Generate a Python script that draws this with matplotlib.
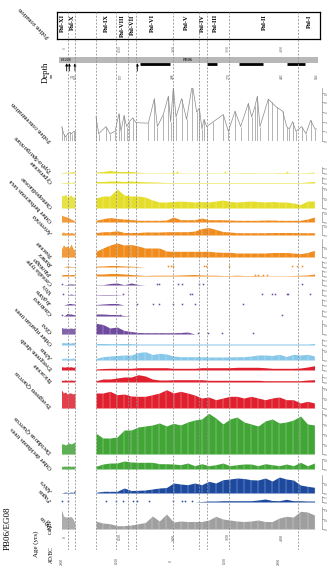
import matplotlib
matplotlib.use('Agg')
import matplotlib.pyplot as plt
import numpy as np
from matplotlib.patches import Rectangle

plt.rcParams['font.family'] = ['Liberation Serif', 'DejaVu Serif']
plt.rcParams['mathtext.fontset'] = 'custom'
plt.rcParams['mathtext.rm'] = 'Liberation Serif'
plt.rcParams['mathtext.it'] = 'Liberation Serif:italic'

# ---------------- data ----------------
ages_eg08 = [-65, -30, 5, 40, 75, 110, 150, 184]
ages_pb06 = [571, 700, 830, 960, 1090, 1220, 1350, 1480, 1610, 1740, 1870, 2000,
             2130, 2260, 2390, 2520, 2650, 2780, 2910, 3040, 3170, 3300, 3430, 3560,
             3690, 3820, 3950, 4080, 4210, 4340, 4470, 4600]

conc_ages = [-61, -25, 12, 49, 86, 123, 160, 184,
             571, 621, 756, 829, 922, 995, 1032, 1088, 1137, 1186, 1247, 1309, 1536,
             1647, 1702, 1812, 1905, 1948, 1997, 2046, 2150, 2242, 2347, 2427, 2476,
             2525, 2562, 2611, 2734, 2918, 3011, 3134, 3238, 3379, 3441, 3502, 3545,
             3594, 3748, 3810, 3902, 4012, 4086, 4135, 4197, 4258, 4363, 4442, 4528,
             4608, 4640]
conc_vals = [3.0, 1.5, 0.8, 1.5, 1.8, 1.5, 2.0, 2.0,
             5.0, 1.5, 3.0, 1.5, 2.0, 5.7, 2.0, 5.3, 3.0, 4.0, 4.8, 3.8, 3.7,
             8.8, 3.0, 5.5, 9.3, 4.0, 11.2, 5.0, 8.8, 4.5, 11.7, 6.0, 6.8,
             2.5, 4.5, 3.0, 4.0, 5.5, 2.0, 6.2, 3.0, 7.8, 5.0, 7.2, 9.3,
             3.0, 8.7, 8.0, 7.0, 6.2, 3.0, 2.5, 4.0, 2.0, 3.0, 1.5, 4.3,
             2.5, 2.5]

typha = [0.5, 0.5, 0.8, 0.5, 0.8, 1, 1.5, 0.8,
         1, 1.5, 2.5, 1.5, 1.5, 1.5, 0.8, 0.3, 0.3, 0.3, 0.3, 0.5, 0.3, 0.2, 0.3, 0.3,
         0.3, 0.3, 0.2, 0.3, 0.3, 0.5, 0.5, 0.3, 0.3, 0.3, 0.5, 0.5, 0.3, 0.3, 0.5, 0.8]
cyperaceae = [0.5, 0.5, 0.5, 0.8, 0.5, 0.5, 1, 0.5,
              1.5, 1.5, 2, 2, 1.5, 2, 1.5, 1.2, 1, 0.8, 0.5, 0.5, 0.5, 0.5, 0.5, 0.5,
              0.5, 0.5, 0.5, 0.5, 0.5, 0.5, 0.5, 0.5, 0.5, 0.5, 0.5, 0.5, 0.5, 0.5, 1, 1.5]
chenopodiaceae = [13, 12, 14, 11, 12, 13, 10, 13,
                  10, 12, 12, 19, 13, 12, 12, 11, 8, 6, 6, 6.5, 7, 6.5, 6, 6.5,
                  6, 7, 8, 6.5, 6, 6.5, 7, 6.5, 6, 6.5, 6, 6, 5, 3.5, 7, 7]
other_herbs = [7, 6, 5.5, 5, 4, 3, 2, 1,
               1.7, 3.3, 4.5, 3.5, 3, 2.5, 1.7, 1.7, 1.7, 1.7, 2, 5, 2.3, 2.3, 2.3, 4,
               2.3, 2.3, 2.3, 2, 1.7, 1.7, 1.7, 1.7, 2, 2, 1.7, 1.7, 1.7, 1.7, 3, 5]
artemisia = [2, 3, 2, 2.5, 2, 2.5, 2, 1.5,
             2.3, 3.3, 3.3, 4.3, 2.5, 2.5, 2.5, 3, 3, 3, 3.3, 3.3, 3.3, 3.3, 4, 6.5,
             7.5, 5.5, 3.5, 3, 2.3, 2.3, 2.3, 2.3, 2.3, 2.5, 2.5, 2.5, 2.5, 2.3, 2.3, 2.3]
poaceae = [8, 12, 10, 11, 9, 13, 8, 7,
           5.7, 9, 12, 14, 12, 12.5, 11, 9, 9, 9, 6, 5.7, 5.7, 5.7, 5.7, 5.7,
           5.7, 5, 4.7, 4.7, 4, 4, 4, 4, 4, 4.5, 4.5, 4.5, 4, 3.3, 4.5, 6.7]
rumex = [0, 0, 0.5, 1, 0.8, 0.5, 0.5, 0.3,
         1, 1, 1.5, 1.5, 1, 0.8, 0.5, 0, 0, 0, 0, 0, 0, 0, 0, 0,
         0, 0, 0, 0, 0, 0, 0, 0, 0, 0, 0, 0, 0, 0, 0, 0]
plantago = [1, 1.5, 1.5, 1.5, 1, 1.5, 1.5, 1,
            2, 2, 2.5, 2.5, 2, 1.5, 1, 0.5, 0.8, 0.8, 0.8, 0.8, 1, 1.3, 1.5, 1,
            0.8, 0.8, 0.5, 0.5, 0.8, 0.5, 0.5, 0.5, 0.3, 0.3, 0.3, 0.3, 0.5, 0.8, 1, 2]
cerealia = [0, 0, 0.3, 0.5, 1, 1, 1, 0.5,
            0.3, 0.3, 1.5, 2, 0.3, 2, 0.5, 0, 0, 0, 0, 0, 0, 0, 0, 0,
            0, 0, 0, 0, 0, 0, 0, 0, 0, 0, 0, 0, 0, 0, 0, 0]
vitis = [0, 0, 0, 0, 0.5, 1, 0.5, 0,
         0.3, 0.5, 0.5, 0.3, 0, 0, 0, 0, 0, 0, 0, 0, 0, 0, 0, 0,
         0, 0, 0, 0, 0, 0, 0, 0, 0, 0, 0, 0, 0, 0, 0, 0]
juglans = [0, 0, 0.5, 1, 1.5, 1.5, 1, 1,
           0.5, 1, 1.5, 1.5, 0, 0, 0, 0, 0, 0, 0, 0, 0, 0, 0, 0,
           0, 0, 0, 0, 0, 0, 0, 0, 0, 0, 0, 0, 0, 0, 0, 0]
castanea = [0, 0, 1, 2.5, 2, 2, 1.5, 1,
            2, 2, 1.5, 1.5, 0.5, 0, 0, 0, 0, 0, 0, 0, 0, 0, 0, 0,
            0, 0, 0, 0, 0, 0, 0, 0, 0, 0, 0, 0, 0, 0, 0, 0]
olea = [6.7, 5.7, 6, 5.5, 5.7, 6, 5.5, 6.3,
        10.7, 9.5, 6, 7, 3.5, 2.5, 1.5, 1.3, 1.3, 1.3, 1.3, 1.3, 1.5, 2, 0, 0,
        0, 0, 0, 0, 0, 0, 0, 0, 0, 0, 0, 0, 0, 0, 0, 0]
riparian = [2, 2.5, 2, 2.5, 2, 2, 2.5, 2,
            1.5, 1.5, 1.3, 1.3, 1.5, 1.3, 1, 1, 1, 1, 1, 1, 1, 1, 1, 1,
            1, 1, 1, 1, 1, 1, 1, 1, 1, 1, 1, 1, 1, 1, 1, 1.5]
alnus = [1.5, 1.7, 2, 1.7, 1.5, 1.7, 2, 1.7,
         1.7, 3.3, 4, 4.5, 5, 5, 7.5, 8.3, 5.5, 6.7, 6, 4, 3.3, 3.3, 3.3, 3.3,
         3, 3, 3, 3, 3.3, 3.3, 4, 5, 5, 4.5, 5.7, 3.5, 5.7, 5, 5.7, 4]
ev_shrub = [3.3, 3, 3, 3.3, 3, 3.3, 2.7, 3,
            1, 1.5, 1.7, 1.7, 1.7, 1.7, 2.3, 2.3, 2.3, 2.3, 2.3, 1.7, 1.7, 1.7, 1.7, 2.3,
            2.3, 2.3, 2.3, 2.3, 2.7, 2.7, 2.7, 2.7, 2.3, 1.7, 1.7, 1.7, 1.7, 2, 3, 4.3]
ericaceae = [1.7, 1.7, 2, 1.7, 1.7, 2, 1.7, 1.7,
             1.3, 3, 3, 4, 5, 5, 7.3, 6, 3, 2, 2, 2.3, 2.3, 2.3, 2.3, 2.3,
             1.7, 1.7, 1.7, 1.7, 1.7, 1.7, 1.7, 1.7, 1.3, 1.3, 1.3, 1.3, 1.3, 1.3, 2, 2.3]
ev_quercus = [18, 15, 16, 14, 15, 15, 14, 15,
              15, 15, 16.7, 13.3, 14, 12, 11.7, 11.7, 13.3, 15, 18.3, 15, 16.7, 15, 13, 10,
              11, 8.3, 10, 11.7, 11.7, 10, 11.7, 10, 8.3, 10, 11, 8.3, 8.3, 5, 6.7, 5]
dec_quercus = [10, 10, 9, 10, 11, 10, 11, 12,
               20.7, 16, 16, 17, 24, 24, 27, 28, 29, 31, 28, 30.7, 29, 32, 34, 35,
               40.7, 36, 30, 35, 37, 32, 30, 28, 33, 35, 31, 32, 34, 38, 30, 29]
other_dec = [2.7, 2.7, 3, 2.7, 3, 2.7, 3, 2.3,
             2.7, 5, 6, 6, 8, 7, 6.7, 6.7, 6.7, 5.3, 5.3, 5, 4.3, 6, 3.3, 5.3,
             3.3, 4.3, 6, 3.3, 4.3, 5, 5, 3.3, 5.3, 4.3, 3.3, 5, 3.3, 6.7, 3.3, 6]
abies = [0, 0.5, 1, 0.5, 0.5, 1, 0.5, 3,
         0.7, 1.7, 1.7, 1.7, 5, 2.5, 2.7, 3, 4, 5, 5.5, 10, 9, 8.3, 10, 8.3,
         11.7, 10, 13.3, 14, 15, 14.5, 13.3, 13, 15, 12, 16, 14, 13, 8, 6.7, 5.7]
fagus = [0, 0, 0, 0, 0, 0, 0, 0,
         0, 0, 0, 0, 0, 0, 0, 0, 0, 0, 0, 0, 0, 0, 0, 0.5,
         1, 1, 1.3, 1.3, 1.3, 1.3, 1.3, 2, 3, 1.5, 1.3, 2.7, 1.3, 1.3, 1, 1]
pinus = [19, 13, 12, 12, 12, 12.5, 10, 5,
         7.7, 6, 5.3, 3.3, 3.3, 4, 5.3, 6.5, 13, 8, 15, 7, 8, 7.5, 7.5, 7.5,
         9, 12.7, 10, 9, 8, 7.5, 8, 9, 7.5, 7.5, 11, 12.7, 12, 17.7, 17, 14]

# presence-only finds (ages, cal BP)
typha_dots = [1996, 2058, 2949, 4085]
rumex_dots = [1904, 1948, 1996, 2562, 2599, 3029, 4179, 4271, 4363]
plantago_dots = [3502, 3563, 3655, 3717]
cerealia_dots = [-61, 1690, 1739, 2089, 2151, 2476, 2538, 4363]
vitis_dots = [-37, 1075, 2304, 2335, 3625, 3810, 3871, 4085, 4116, 4516]
juglans_dots = [1321, 1628, 1739, 1996, 2151, 2396, 3287]
castanea_dots = [-61, 1014, 3994]
olea_dots = [2458, 2642, 2888, 3471]
fagus_dots = [-61, 61, 756, 940, 1075, 1259, 1321, 1554, 1996, 2151, 2212, 2335]

zone_names = ["Pal-XI", "Pal-X", "Pal-IX", "Pal-VIII", "Pal-VII", "Pal-VI",
              "Pal-V", "Pal-IV", "Pal-III", "Pal-II", "Pal-I"]
zone_label_ages = [-55, 129, 756, 1051, 1235, 1604, 2230, 2525, 2765, 3668, 4498]
zone_bounds = [55, 184, 571, 940, 1161, 1309, 1991, 2470, 2618, 3023, 4295]

calbp_ticks = [0, 1000, 2000, 3000, 4000]
adbc_ticks = [-50, 950, 1950, 2950, 3950]
adbc_labels = ["2000", "1000", "0", "1000", "2000"]

dated_intervals = [(1382, 1935), (2618, 2802), (3207, 3650), (4092, 4424)]
arrow_ages = [31, 79, 184, 1333]
depth_ages = [142, 203, 1032, 1991, 3023, 4000, 4645]
depth_labels = ["74", "100", "137", "208", "270", "482", "546"]

# ---------------- layout ----------------
W, H = 336, 569
fig = plt.figure(figsize=(W / 100, H / 100), dpi=100)


def rect(x0, y0, x1, y1):
    return [x0 / W, 1 - y1 / H, (x1 - x0) / W, (y1 - y0) / H]


XL = (-74, 4645)
PX0, PX1 = 61, 317
ages = np.array(ages_eg08 + ages_pb06, dtype=float)
n_eg = len(ages_eg08)
LABEL_FS = 4.7

YEL, ORA, PUR, LBL, RED, GRN, BLU, GRY = ('#e4de2a', '#f08c1e', '#6e4a9e', '#86c7ea',
                                          '#e0202e', '#41a636', '#1d4a9e', '#9f9f9f')

taxa = [
    (r"$\it{Typha}$-$\it{Sparganium}$", typha, YEL, 173, 6, typha_dots),
    ("Cyperaceae", cyperaceae, YEL, 183, 6, None),
    ("Chenopodiaceae", chenopodiaceae, YEL, 208, 22, None),
    ("Other herbaceous taxa", other_herbs, ORA, 222, 10, None),
    (r"$\it{Artemisia}$", artemisia, ORA, 235, 10, None),
    ("Poaceae", poaceae, ORA, 257, 18, None),
    (r"$\it{Rumex}$", rumex, ORA, 267, 6, rumex_dots),
    (r"$\it{Plantago}$", plantago, ORA, 276, 6, plantago_dots),
    ("Cerealia type", cerealia, PUR, 285, 6, cerealia_dots),
    (r"$\it{Vitis}$", vitis, PUR, 295, 6, vitis_dots),
    (r"$\it{Juglans}$", juglans, PUR, 305, 6, juglans_dots),
    (r"$\it{Castanea}$", castanea, PUR, 316, 6, castanea_dots),
    (r"$\it{Olea}$", olea, PUR, 334, 14, olea_dots),
    ("Other riparian trees", riparian, LBL, 345, 6, None),
    (r"$\it{Alnus}$", alnus, LBL, 360, 12, None),
    ("Evergreen shrub", ev_shrub, RED, 370, 6, None),
    ("Ericaceae", ericaceae, RED, 382, 8, None),
    (r"Evergreen $\it{Quercus}$", ev_quercus, RED, 408, 22, None),
    (r"Deciduous $\it{Quercus}$", dec_quercus, GRN, 454, 44, None),
    ("Other deciduous trees", other_dec, GRN, 469, 10, None),
    (r"$\it{Abies}$", abies, BLU, 493, 18, None),
    (r"$\it{Fagus}$", fagus, BLU, 502, 6, fagus_dots),
    (r"$\it{Pinus}$", pinus, GRY, 529, 22, None),
]


def style_right(ax, ticks):
    for s in ('top', 'left', 'bottom'):
        ax.spines[s].set_visible(False)
    ax.spines['right'].set_position(('outward', 3.5))
    ax.spines['right'].set_linewidth(0.4)
    ax.spines['right'].set_color('#777777')
    ax.set_xticks([])
    ax.yaxis.tick_right()
    ax.set_yticks(ticks)
    ax.set_yticklabels([str(t) for t in ticks])
    ax.tick_params(axis='y', length=1.5, width=0.4, pad=0.8, labelsize=2.4,
                   colors='#666666', labelrotation=90)
    for lab in ax.get_yticklabels():
        lab.set_va('center')


# zonation box
axz = fig.add_axes(rect(57, 12, 320, 39))
axz.set_xlim(-147.5, 4700.5)
axz.set_ylim(0, 1)
axz.set_xticks([])
axz.set_yticks([])
for s in axz.spines.values():
    s.set_linewidth(0.9)
for name, a in zip(zone_names, zone_label_ages):
    axz.text(a, 0.92, name, rotation=90, ha='center', va='top', fontsize=4.6,
             fontweight='bold')
fig.text(49 / W, 1 - 37 / H, "Pollen zonation", rotation=135, rotation_mode='anchor',
         ha='left', va='center', fontsize=LABEL_FS)

# header: age ticks, core bar, dated intervals, depth
axh = fig.add_axes(rect(PX0, 40, PX1, 86))
axh.set_xlim(*XL)
axh.set_ylim(86, 40)
axh.axis('off')
for t in calbp_ticks:
    axh.text(t, 48, str(t), rotation=90, ha='center', va='center', fontsize=2.6,
             color='#666666')
axh.add_patch(Rectangle((-110, 57), 4775, 5.5, facecolor='#b8b8b8', edgecolor='none',
                        clip_on=False))
axh.text(18, 59.8, "EG08", ha='center', va='center', fontsize=3.2, fontweight='bold',
         color='#333333')
axh.text(2267, 59.8, "PB06", ha='center', va='center', fontsize=3.2, fontweight='bold',
         color='#333333')
for a0, a1 in dated_intervals:
    axh.plot([a0, a1], [63.8, 63.8], color='black', lw=2.0, solid_capstyle='butt')
for a in arrow_ages:
    axh.annotate('', xy=(a, 63.2), xytext=(a, 71),
                 arrowprops=dict(arrowstyle='-|>', lw=0.6, color='black',
                                 mutation_scale=3.5, shrinkA=0, shrinkB=0))
for a, lab in zip(depth_ages, depth_labels):
    axh.text(a, 76.5, lab, rotation=90, ha='center', va='center', fontsize=2.6,
             color='#333333')
fig.text(46 / W, 1 - 72 / H, "Depth", rotation=90, ha='center', va='center', fontsize=6.2)
fig.text(51.5 / W, 1 - 75 / H, "cm", rotation=90, ha='center', va='center', fontsize=3)

# pollen concentration
axc = fig.add_axes(rect(PX0, 88, PX1, 141))
axc.set_xlim(*XL)
axc.set_ylim(0, 11)
style_right(axc, [0, 2, 4, 6, 8, 10])
cA = np.array(conc_ages, dtype=float)
cV = np.array(conc_vals, dtype=float)
for sl in (slice(0, n_eg), slice(n_eg, None)):
    axc.vlines(cA[sl], 0, cV[sl], color='#8a8a8a', lw=0.45)
    axc.plot(cA[sl], cV[sl], color='#8a8a8a', lw=0.5)
axc.axhline(0, color='#999999', lw=0.5)
fig.text(51 / W, 1 - 141 / H, "Pollen concentration", rotation=135,
         rotation_mode='anchor', ha='left', va='center', fontsize=LABEL_FS)

# taxa panels
for label, vals, col, base, hgt, dots in taxa:
    ax = fig.add_axes(rect(PX0, base - hgt, PX1, base))
    ax.set_xlim(*XL)
    ax.set_ylim(0, hgt)
    ax.patch.set_alpha(0)
    v = np.array(vals, dtype=float)
    for sl in (slice(0, n_eg), slice(n_eg, None)):
        ax.fill_between(ages[sl], 0, v[sl], color=col, lw=0, clip_on=False)
        if hgt >= 10:
            ax.vlines(ages[sl], 0, v[sl] * 0.97, color='white', lw=0.35, alpha=0.6)
    ax.axhline(0, color='#b8b8b8', lw=0.5, zorder=0)
    if dots:
        ax.plot(dots, [1.2] * len(dots), ls='none', marker='s', ms=1.1, color=col,
                mew=0, clip_on=False)
    if hgt < 10:
        ticks = [0, 5]
    elif hgt < 20:
        ticks = [0, 10]
    else:
        ticks = list(range(0, hgt + 1, 10))
    style_right(ax, ticks)
    fig.text(52 / W, 1 - (base - 1) / H, label, rotation=135, rotation_mode='anchor',
             ha='left', va='center', fontsize=LABEL_FS)

# bottom age axis
axa = fig.add_axes(rect(PX0, 530, PX1, 569))
axa.set_xlim(*XL)
axa.set_ylim(569, 530)
axa.axis('off')
for t in calbp_ticks:
    axa.text(t, 537, str(t), rotation=90, ha='center', va='center', fontsize=2.6,
             color='#444444')
for t, lab in zip(adbc_ticks, adbc_labels):
    axa.text(t, 561, lab, rotation=90, ha='center', va='center', fontsize=2.6,
             color='#444444')
fig.text(8 / W, 1 - 528 / H, "PB06/EG08", rotation=90, ha='center', va='center',
         fontsize=6.5)
fig.text(36 / W, 1 - 544 / H, "Age (yrs)", rotation=90, ha='center', va='center',
         fontsize=5)
fig.text(51 / W, 1 - 527 / H, "cal BP", rotation=90, ha='center', va='center',
         fontsize=4)
fig.text(51 / W, 1 - 555 / H, "AD/BC", rotation=90, ha='center', va='center',
         fontsize=4)

# zone boundaries (dashed)
axd = fig.add_axes(rect(PX0, 12, PX1, 550))
axd.set_xlim(*XL)
axd.set_ylim(0, 1)
axd.axis('off')
axd.patch.set_alpha(0)
for b in zone_bounds:
    axd.axvline(b, color='#8c8c8c', lw=0.55, dashes=(2.5, 2))

fig.savefig('out.png', dpi=100)
